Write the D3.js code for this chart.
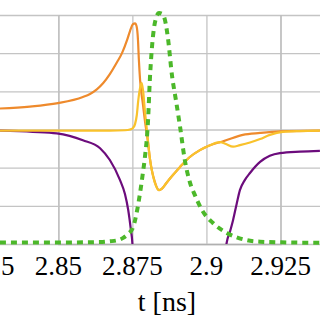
<!DOCTYPE html>
<html><head><meta charset="utf-8">
<script src="https://cdn.jsdelivr.net/npm/d3@7"></script>
<style>
@font-face { font-family: "ChartSerif"; src: local("Liberation Serif"), local("LiberationSerif"), local("LiberationSerif-Regular"), local("Times New Roman"); }
html,body{margin:0;padding:0;background:#fff;} svg{display:block;}
.lbl{font-family:"Times New Roman","Liberation Serif","ChartSerif",serif;}
</style>
</head><body>
<svg id="chart" width="320" height="320"></svg>
<script>
// ---- data (t in ns, value in arbitrary units) ----
const xTicks = [2.825, 2.85, 2.875, 2.9, 2.925];
const xTickLabels = ["2.825", "2.85", "2.875", "2.9", "2.925"];
const yTicks = [-3, -2, -1, 0, 1, 2, 3];
const xLabel = "t [ns]";

const orangeSeries = [
  [2.8303,0.55],[2.8404,0.60],[2.8499,0.69],[2.8583,0.85],[2.8607,0.93],[2.8630,1.05],
  [2.8651,1.21],[2.8674,1.45],[2.8698,1.76],[2.8715,2.00],[2.8732,2.34],[2.8742,2.58],
  [2.8752,2.76],[2.8759,2.78],[2.8764,2.71],[2.8769,2.34],[2.8772,1.82],[2.8776,1.30],
  [2.8786,0.64],[2.8792,0.25],[2.8803,-0.35],[2.8809,-0.75],[2.8826,-1.38],[2.8840,-1.59],
  [2.8850,-1.55],[2.8863,-1.42],[2.8884,-1.22],[2.8911,-0.98],[2.8944,-0.72],[2.8978,-0.54],
  [2.9012,-0.41],[2.9046,-0.33],[2.9056,-0.31],[2.9123,-0.14],[2.9181,-0.09],[2.9248,-0.05],
  [2.9383,-0.03]
];
const yellowSeries = [
  [2.8303,-0.03],[2.8674,-0.03],[2.8725,-0.02],[2.8742,0.00],[2.8752,0.04],[2.8759,0.14],
  [2.8765,0.38],[2.8770,0.77],[2.8776,1.09],[2.8781,1.22],[2.8786,1.03],[2.8792,0.51],
  [2.8799,-0.01],[2.8809,-0.75],[2.8819,-1.19],[2.8830,-1.48],[2.8840,-1.59],[2.8850,-1.55],
  [2.8863,-1.42],[2.8884,-1.22],[2.8911,-0.98],[2.8944,-0.72],[2.8978,-0.54],[2.9012,-0.41],
  [2.9046,-0.33],[2.9066,-0.38],[2.9090,-0.45],[2.9113,-0.41],[2.9147,-0.34],[2.9181,-0.25],
  [2.9214,-0.14],[2.9258,-0.06],[2.9316,-0.04],[2.9383,-0.03]
];
const purpleLeft = [
  [2.8303,-0.03],[2.8414,-0.06],[2.8495,-0.10],[2.8583,-0.28],[2.8641,-0.49],[2.8674,-0.80],
  [2.8708,-1.32],[2.8725,-1.69],[2.8736,-2.11],[2.8745,-2.63],[2.8750,-2.98],[2.8752,-3.42]
];
const purpleRight = [
  [2.9064,-3.42],[2.9068,-2.98],[2.9079,-2.69],[2.9090,-2.37],[2.9102,-1.95],[2.9113,-1.59],
  [2.9130,-1.32],[2.9147,-1.14],[2.9181,-0.85],[2.9214,-0.69],[2.9248,-0.62],[2.9316,-0.58],
  [2.9383,-0.56]
];
const greenSeries = [
  [2.8303,-2.96],[2.8506,-2.96],[2.8641,-2.95],[2.8674,-2.93],[2.8701,-2.90],[2.8719,-2.84],
  [2.8735,-2.74],[2.8753,-2.55],[2.8765,-2.16],[2.8776,-1.66],[2.8786,-1.11],[2.8792,-0.75],
  [2.8803,0.25],[2.8809,1.30],[2.8816,2.14],[2.8823,2.66],[2.8830,2.92],[2.8840,3.05],
  [2.8850,3.03],[2.8860,2.87],[2.8870,2.40],[2.8884,1.40],[2.8897,0.77],[2.8911,0.07],
  [2.8927,-0.80],[2.8944,-1.38],[2.8961,-1.72],[2.8985,-2.11],[2.9022,-2.45],[2.9069,-2.71],
  [2.9137,-2.90],[2.9181,-2.94],[2.9282,-2.96],[2.9383,-2.97]
];

// ---- layout ----
const W = 320, H = 320;
const plotTop = 15, plotBottom = 244;
const serifFont = "Times New Roman";
const x = d3.scaleLinear().domain([2.85, 2.925]).range([58.3, 280.5]);
const y = d3.scaleLinear().domain([-3, 3]).range([plotBottom, plotTop]);

const svg = d3.select("#chart");
svg.append("rect").attr("width", W).attr("height", H).attr("fill", "#fff");

// text first
svg.append("g").selectAll("text").data(xTicks).join("text")
  .attr("class", "lbl")
  .attr("x", d => x(d)).attr("y", 275).attr("text-anchor", "middle")
  .attr("font-family", serifFont).attr("font-size", 27).attr("fill", "#000")
  .text((d, i) => xTickLabels[i]);

svg.append("text").attr("class", "lbl")
  .attr("x", 167).attr("y", 311).attr("text-anchor", "middle")
  .attr("font-family", serifFont).attr("font-size", 28).attr("fill", "#000").text(xLabel);

svg.append("defs").append("clipPath").attr("id", "clip")
  .append("rect").attr("x", 0).attr("y", 0).attr("width", W).attr("height", plotBottom);

// horizontal grid
const yAxis = svg.append("g")
  .call(d3.axisLeft(y).tickValues(yTicks).tickSize(-W).tickFormat(""));
yAxis.select(".domain").remove();
yAxis.selectAll(".tick line").attr("stroke", "#c4c4c4").attr("stroke-width", 1.3);

// vertical grid
const xAxis = svg.append("g").attr("transform", `translate(0,${plotBottom})`)
  .call(d3.axisBottom(x).tickValues(xTicks).tickSize(-(plotBottom - plotTop)).tickFormat(""));
xAxis.select(".domain").attr("stroke", "#b0b0b0").attr("stroke-width", 1.3);
xAxis.selectAll(".tick line").attr("stroke", "#c4c4c4").attr("stroke-width", 1.3);

const line = d3.line().x(d => x(d[0])).y(d => y(d[1])).curve(d3.curveMonotoneX);
const g = svg.append("g").attr("clip-path", "url(#clip)");

g.append("path").datum(purpleLeft).attr("d", line)
  .attr("fill", "none").attr("stroke", "#6c0c7c").attr("stroke-width", 2.2);
g.append("path").datum(purpleRight).attr("d", line)
  .attr("fill", "none").attr("stroke", "#6c0c7c").attr("stroke-width", 2.2);
g.append("path").datum(orangeSeries).attr("d", line)
  .attr("fill", "none").attr("stroke", "#ee8a2c").attr("stroke-width", 2.2);
g.append("path").datum(yellowSeries).attr("d", line)
  .attr("fill", "none").attr("stroke", "#f9c22c").attr("stroke-width", 2.2);
svg.append("path").datum(greenSeries).attr("d", line)
  .attr("fill", "none").attr("stroke", "#4cb82a").attr("stroke-width", 4)
  .attr("stroke-dasharray", "6,5");
</script>
</body></html>
